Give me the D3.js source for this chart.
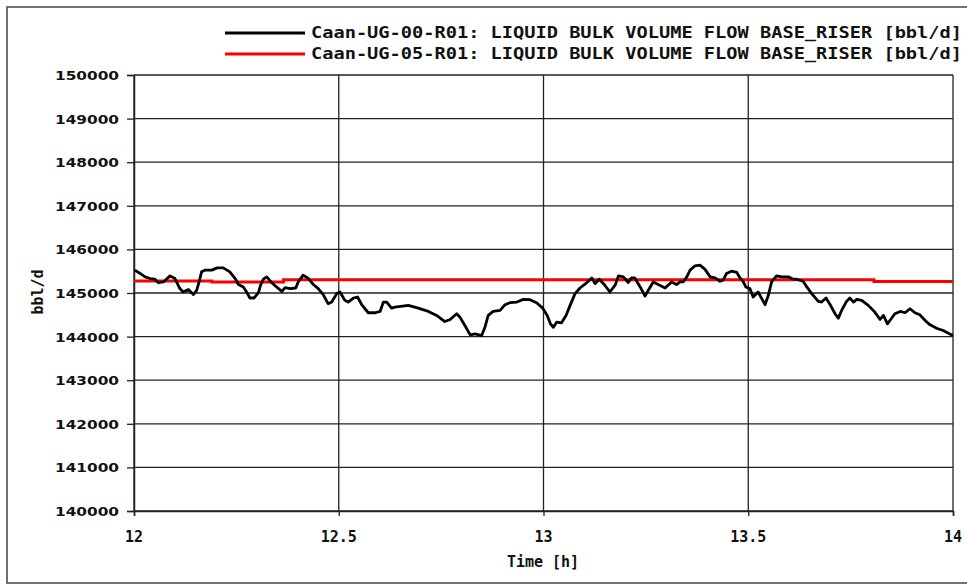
<!DOCTYPE html>
<html><head><meta charset="utf-8">
<script src="https://cdn.jsdelivr.net/npm/d3@7/dist/d3.min.js"></script>
<style>html,body{margin:0;padding:0;background:#fff;}svg{display:block;}</style>
</head><body>
<script>
const seriesNames = [
  "Caan-UG-00-R01: LIQUID BULK VOLUME FLOW BASE_RISER [bbl/d]",
  "Caan-UG-05-R01: LIQUID BULK VOLUME FLOW BASE_RISER [bbl/d]"
];
const seriesColors = ["#000000", "#ff0000"];
const xTicks = [12, 12.5, 13, 13.5, 14];
const xTickLabels = ["12", "12.5", "13", "13.5", "14"];
const yTicks = [140000,141000,142000,143000,144000,145000,146000,147000,148000,149000,150000];
const xTitle = "Time [h]";
const yTitle = "bbl/d";

// Black series: [time h, bbl/d]
const timeA = [12.002,12.015,12.027,12.039,12.051,12.059,12.072,12.088,12.100,12.112,12.120,12.133,12.145,12.153,12.159,12.165,12.173,12.190,12.203,12.218,12.234,12.247,12.255,12.267,12.275,12.283,12.293,12.304,12.309,12.316,12.324,12.336,12.348,12.361,12.369,12.381,12.395,12.401,12.413,12.426,12.438,12.450,12.462,12.474,12.483,12.495,12.503,12.515,12.523,12.536,12.546,12.556,12.572,12.589,12.601,12.609,12.617,12.629,12.637,12.670,12.694,12.719,12.739,12.759,12.772,12.788,12.796,12.808,12.821,12.833,12.849,12.857,12.865,12.877,12.894,12.906,12.918,12.935,12.951,12.967,12.983,12.998,13.009,13.017,13.024,13.032,13.044,13.055,13.065,13.077,13.089,13.106,13.118,13.126,13.136,13.150,13.162,13.175,13.183,13.195,13.207,13.215,13.223,13.236,13.248,13.256,13.268,13.280,13.297,13.313,13.325,13.333,13.341,13.350,13.358,13.370,13.382,13.394,13.407,13.419,13.431,13.439,13.447,13.459,13.472,13.480,13.488,13.494,13.504,13.512,13.524,13.533,13.541,13.549,13.557,13.569,13.582,13.598,13.610,13.618,13.634,13.643,13.655,13.671,13.679,13.690,13.700,13.712,13.720,13.728,13.740,13.748,13.757,13.765,13.777,13.793,13.809,13.822,13.830,13.840,13.846,13.858,13.871,13.883,13.895,13.907,13.919,13.932,13.944,13.960,13.976,13.997,14.000];
const flowA = [145524,145448,145370,145332,145316,145240,145254,145393,145332,145101,145023,145078,144963,145062,145254,145485,145524,145524,145577,145577,145485,145332,145194,145139,145023,144885,144885,145009,145178,145316,145370,145240,145139,145039,145125,145101,145115,145254,145409,145332,145194,145101,144963,144755,144792,144986,145023,144831,144792,144885,144908,144732,144547,144547,144577,144792,144792,144653,144677,144716,144653,144577,144485,144346,144393,144524,144446,144254,144039,144062,144023,144215,144485,144577,144600,144732,144778,144792,144854,144847,144778,144653,144485,144293,144215,144331,144316,144485,144716,144986,145115,145240,145346,145217,145316,145178,145023,145178,145393,145370,145240,145346,145346,145139,144931,145062,145254,145194,145115,145254,145194,145254,145254,145370,145524,145624,145640,145547,145370,145346,145270,145293,145448,145501,145471,145346,145254,145139,145101,144908,145023,144870,144732,144947,145254,145393,145370,145370,145316,145316,145270,145139,144986,144808,144792,144885,144732,144524,144423,144600,144808,144885,144792,144854,144831,144716,144562,144393,144485,144293,144370,144524,144577,144547,144639,144547,144501,144370,144270,144192,144139,144039,144020];

// Red series (step): [time h, bbl/d]
const timeB = [12.0, 12.19, 12.365, 13.807, 14.0];
const flowB = [145275, 145255, 145305, 145265, 145265];

const W = 967, H = 585;
const m = {left: 134, right: 953, top: 75, bottom: 511};

const svg = d3.select("body").append("svg").attr("width", W).attr("height", H);
svg.append("rect").attr("width", W).attr("height", H).attr("fill", "#fff");
svg.append("rect").attr("x", 7).attr("y", 7).attr("width", 975).attr("height", 576)
  .attr("fill", "none").attr("stroke", "#444").attr("stroke-width", 1.5);

const x = d3.scaleLinear().domain([12, 14]).range([m.left, m.right]);
const y = d3.scaleLinear().domain([140000, 150000]).range([m.bottom, m.top]);

// gridlines
const g = svg.append("g");
g.selectAll(".hg").data(yTicks).join("line")
  .attr("x1", m.left).attr("x2", m.right).attr("y1", d => y(d)).attr("y2", d => y(d))
  .attr("stroke", "#222").attr("stroke-width", 1.3);
g.selectAll(".vg").data(xTicks).join("line")
  .attr("x1", d => x(d)).attr("x2", d => x(d)).attr("y1", m.top).attr("y2", m.bottom)
  .attr("stroke", "#222").attr("stroke-width", 1.3);

// axes
const yAxis = d3.axisLeft(y).tickValues(yTicks).tickSize(7).tickFormat("");
const ya = svg.append("g").attr("transform", `translate(${m.left},0)`).call(yAxis);
ya.select(".domain").attr("stroke", "#222").attr("stroke-width", 1.5);
ya.selectAll(".tick line").attr("stroke", "#222").attr("stroke-width", 1.3);
const xAxis = d3.axisBottom(x).tickValues(xTicks).tickSize(5).tickFormat("");
const xa = svg.append("g").attr("transform", `translate(0,${m.bottom})`).call(xAxis);
xa.select(".domain").attr("stroke", "#222").attr("stroke-width", 1.5);
xa.selectAll(".tick line").attr("stroke", "#222").attr("stroke-width", 1.3);

// y tick labels
svg.selectAll(".yl").data(yTicks).join("text")
  .attr("x", 119).attr("y", d => y(d) + 5)
  .attr("text-anchor", "end")
  .attr("font-family", "DejaVu Sans").attr("font-weight", "bold").attr("font-size", 13)
  .attr("textLength", 64).attr("lengthAdjust", "spacingAndGlyphs")
  .attr("fill", "#111")
  .text(d => d3.format("d")(d));

const labFont = "DejaVu Sans Mono";
// x tick labels
svg.selectAll(".xl").data(xTicks).join("text")
  .attr("x", d => x(d)).attr("y", 542)
  .attr("text-anchor", "middle")
  .attr("font-family", labFont).attr("font-weight", "bold").attr("font-size", 15)
  .attr("fill", "#111")
  .text((d, i) => xTickLabels[i]);

svg.append("text").attr("x", 543).attr("y", 567).attr("text-anchor", "middle")
  .attr("font-family", labFont).attr("font-weight", "bold").attr("font-size", 15)
  .attr("fill", "#111").text(xTitle);

svg.append("text").attr("transform", "translate(43,292) rotate(-90)")
  .attr("text-anchor", "middle")
  .attr("font-family", labFont).attr("font-weight", "bold").attr("font-size", 15)
  .attr("fill", "#111").text(yTitle);

// plot clip
svg.append("clipPath").attr("id", "clip").append("rect")
  .attr("x", m.left).attr("y", m.top).attr("width", m.right - m.left).attr("height", m.bottom - m.top);

const dataA = timeA.map((t, i) => [t, flowA[i]]);
const dataB = timeB.map((t, i) => [t, flowB[i]]);

const lineA = d3.line().x(d => x(d[0])).y(d => y(d[1])).curve(d3.curveLinear);
const lineB = d3.line().x(d => x(d[0])).y(d => y(d[1])).curve(d3.curveStepAfter);

svg.append("path").datum(dataB).attr("d", lineB).attr("fill", "none")
  .attr("stroke", seriesColors[1]).attr("stroke-width", 3).attr("clip-path", "url(#clip)");
svg.append("path").datum(dataA).attr("d", lineA).attr("fill", "none")
  .attr("stroke", seriesColors[0]).attr("stroke-width", 2.8).attr("stroke-linejoin", "round")
  .attr("clip-path", "url(#clip)");

// legend
const legY = [33, 54];
seriesNames.forEach((name, i) => {
  svg.append("line").attr("x1", 225).attr("x2", 305).attr("y1", legY[i]).attr("y2", legY[i])
    .attr("stroke", seriesColors[i]).attr("stroke-width", 3);
  svg.append("text").attr("x", 311).attr("y", legY[i] + 5)
    .attr("font-family", labFont).attr("font-weight", "bold").attr("font-size", 15)
    .attr("textLength", 651).attr("lengthAdjust", "spacingAndGlyphs")
    .attr("fill", "#111").text(name);
});
</script>
</body></html>
